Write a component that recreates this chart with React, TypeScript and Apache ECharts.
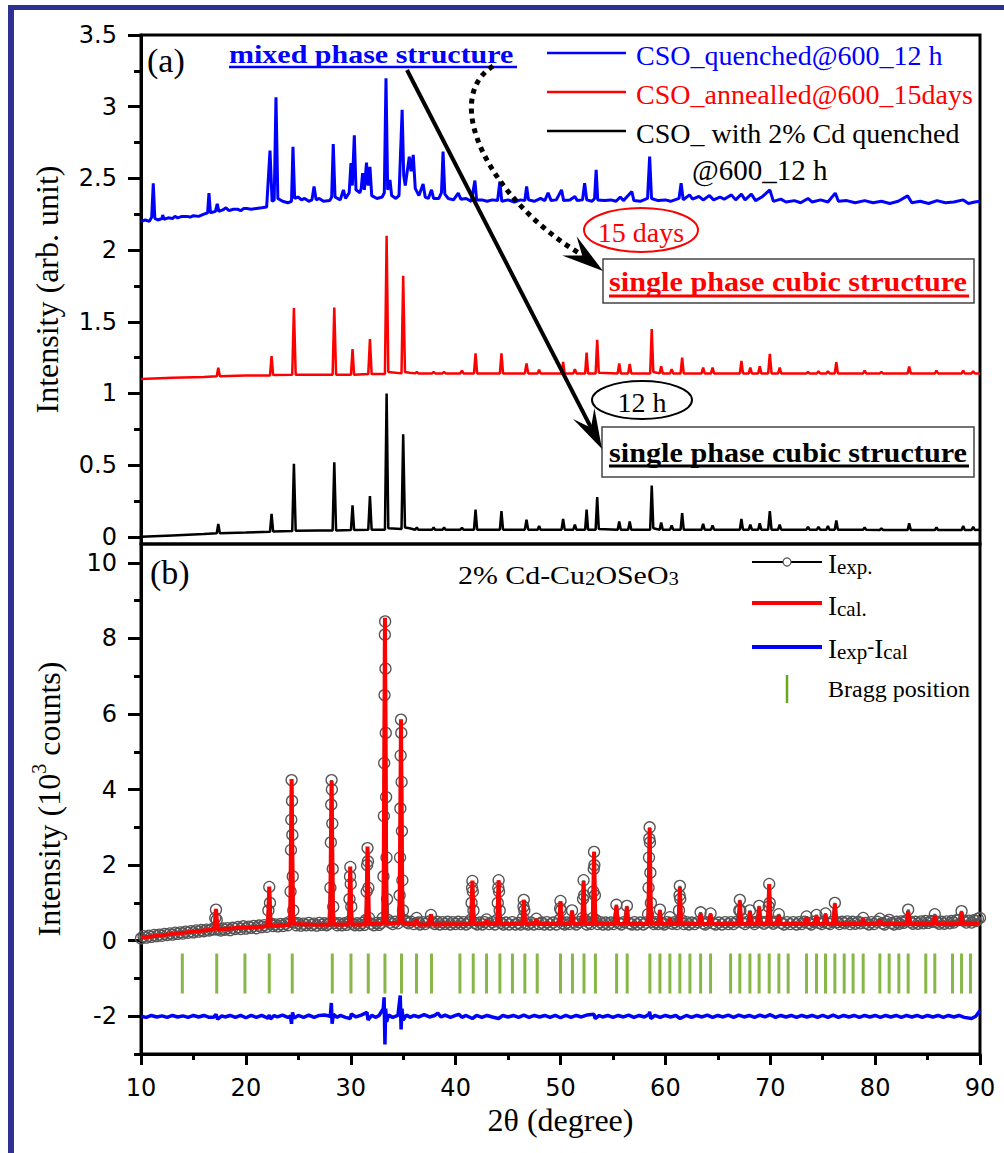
import React, { useEffect, useRef } from 'react';
import * as echarts from 'echarts';

const SERIF = '"Liberation Serif", "Times New Roman", serif';
const SANS = '"DejaVu Sans", sans-serif';

const xMin = 10;
const xMax = 90;
const xStep = 10;
const topYTicks = [0, 0.5, 1, 1.5, 2, 2.5, 3, 3.5];
const topYMinor = [0.25, 0.75, 1.25, 1.75, 2.25, 2.75, 3.25];
const botYTicks = [-2, 0, 2, 4, 6, 8, 10];
const botYMinor = [-3, -1, 1, 3, 5, 7, 9];

const topLegend = ['CSO_quenched@600_12 h', 'CSO_annealled@600_15days', 'CSO_ with 2% Cd quenched'];

// (a) CSO quenched @600 12 h (blue), flat [x, y, x, y, ...]
const quenchedXY = [
  10,2.20, 10.4,2.21, 10.8,2.20, 11.02,2.23, 11.17,2.466, 11.32,2.22, 11.6,2.21, 12.0,2.22, 12.07,2.245, 12.2,2.215, 12.6,2.225, 13.0,2.22, 13.24,2.235, 13.5,2.225,
  13.9,2.235, 14.35,2.235, 14.7,2.23, 15.0,2.24, 15.5,2.235, 16.0,2.25, 16.35,2.26, 16.48,2.397, 16.62,2.26, 17.1,2.27, 17.27,2.322, 17.42,2.27, 17.8,2.28, 18.1,2.295, 18.4,2.275,
  18.8,2.285, 19.2,2.285, 19.5,2.275, 19.8,2.29, 20.08,2.29, 20.5,2.285, 21,2.29, 21.5,2.295, 21.98,2.30, 22.3,2.694, 22.5,2.34, 22.7,2.35, 22.87,3.066, 23.05,2.36, 23.5,2.34, 24.0,2.33,
  24.35,2.34, 24.49,2.72, 24.65,2.36, 25.0,2.37, 25.3,2.35, 25.6,2.36, 26.0,2.34, 26.3,2.35, 26.5,2.443, 26.7,2.35, 27.0,2.36, 27.4,2.34,
  28.0,2.345, 28.18,2.37, 28.33,2.74, 28.5,2.37, 29.0,2.35, 29.3,2.42, 29.5,2.36, 29.85,2.40, 30.02,2.606, 30.15,2.45, 30.34,2.80, 30.5,2.42,
  30.87,2.40, 31.0,2.43, 31.13,2.536, 31.3,2.42, 31.5,2.61, 31.65,2.45, 31.83,2.58, 32.0,2.38, 32.5,2.36, 33.0,2.37, 33.2,2.40, 33.36,3.199,
  33.52,2.42, 33.74,2.49, 33.9,2.38, 34.3,2.36, 34.6,2.38, 34.9,2.978, 35.05,2.52, 35.2,2.45, 35.58,2.652, 35.75,2.55, 35.96,2.664, 36.15,2.43,
  36.5,2.38, 36.9,2.46, 37.1,2.37, 37.4,2.36, 37.7,2.42, 37.9,2.36, 38.4,2.36, 38.65,2.40, 38.8,2.687, 38.97,2.39, 39.3,2.36, 39.8,2.35,
  40.25,2.397, 40.5,2.355, 41.0,2.36, 41.5,2.34, 41.84,2.485, 42.0,2.35, 42.5,2.35, 43.0,2.34, 43.5,2.35, 44.0,2.345, 44.22,2.478, 44.4,2.34,
  45.0,2.35, 45.6,2.335, 46.2,2.35, 46.6,2.345, 46.77,2.443, 46.95,2.35, 47.5,2.34, 48.1,2.36, 48.5,2.345, 48.82,2.40, 49.1,2.345, 49.6,2.35,
  50.1,2.42, 50.3,2.345, 50.9,2.35, 51.37,2.373, 51.6,2.345, 52.1,2.35, 52.3,2.466, 52.5,2.35, 53.0,2.34, 53.25,2.36, 53.4,2.559, 53.55,2.35,
  54.2,2.345, 54.8,2.35, 55.3,2.34, 55.7,2.37, 56.0,2.345, 56.8,2.408, 57.0,2.345, 57.6,2.34, 58.3,2.36, 58.5,2.652, 58.68,2.36, 59.3,2.345,
  60.0,2.35, 60.5,2.34, 61.3,2.36, 61.5,2.466, 61.7,2.35, 62.3,2.385, 62.6,2.355, 63.2,2.375, 63.6,2.35, 64.2,2.38, 64.6,2.35, 65.2,2.37,
  65.6,2.355, 66.3,2.385, 66.7,2.35, 67.25,2.39, 67.6,2.35, 68.2,2.39, 68.6,2.345, 69.2,2.37, 69.96,2.42, 70.3,2.34, 71.0,2.355, 71.5,2.335,
  72.3,2.345, 72.9,2.33, 73.6,2.36, 74.0,2.335, 74.8,2.35, 75.5,2.335, 76.2,2.397, 76.5,2.34, 77.3,2.345, 78.1,2.33, 79.0,2.345, 79.8,2.33,
  80.6,2.34, 81.4,2.325, 82.2,2.34, 83.1,2.378, 83.5,2.33, 84.3,2.34, 85.1,2.325, 85.9,2.345, 86.7,2.33, 87.5,2.335, 88.4,2.35, 88.9,2.325,
  89.5,2.335, 90,2.34
];

// (a) CSO annealed @600 15 days (red)
const annealedXY = [
  10,1.10, 13,1.11, 16,1.115, 17.22,1.12, 17.37,1.18, 17.52,1.12, 20,1.125, 22.3,1.125, 22.45,1.26, 22.6,1.128, 24.42,1.13, 24.58,1.595,
  24.75,1.13, 27,1.13, 28.27,1.13, 28.43,1.60, 28.6,1.13, 30.02,1.13, 30.17,1.31, 30.32,1.13, 31.67,1.135, 31.83,1.38, 31.99,1.135,
  33.26,1.135, 33.42,2.10, 33.58,1.15, 34.84,1.14, 35.0,1.82, 35.17,1.15, 35.6,1.145, 36.15,1.14, 36.3,1.15, 36.45,1.14, 37.75,1.14,
  37.9,1.15, 38.05,1.14, 38.75,1.14, 38.9,1.15, 39.05,1.14, 40.45,1.14, 40.6,1.16, 40.75,1.14, 41.75,1.14, 41.9,1.28, 42.05,1.14,
  44.22,1.14, 44.37,1.28, 44.52,1.14, 46.6,1.14, 46.76,1.21, 46.92,1.14, 47.82,1.14, 47.96,1.165, 48.1,1.14, 50.1,1.14, 50.25,1.22,
  50.4,1.14, 51.22,1.14, 51.37,1.17, 51.52,1.14, 52.35,1.14, 52.49,1.285, 52.63,1.14, 53.35,1.14, 53.5,1.374, 53.65,1.145, 55.45,1.14,
  55.6,1.21, 55.75,1.14, 56.45,1.14, 56.6,1.205, 56.75,1.14, 58.55,1.14, 58.7,1.45, 58.85,1.15, 59.45,1.14, 59.6,1.19, 59.75,1.14,
  60.45,1.14, 60.6,1.17, 60.75,1.14, 61.45,1.14, 61.6,1.25, 61.75,1.14, 63.45,1.14, 63.6,1.18, 63.75,1.14, 64.35,1.14, 64.5,1.18,
  64.65,1.14, 67.1,1.14, 67.25,1.227, 67.4,1.14, 67.95,1.14, 68.1,1.18, 68.25,1.14, 68.85,1.14, 69.0,1.19, 69.15,1.14, 69.8,1.14,
  69.96,1.276, 70.12,1.14, 70.75,1.14, 70.9,1.18, 71.05,1.14, 73.45,1.14, 73.6,1.15, 73.75,1.14, 74.45,1.14, 74.6,1.155, 74.75,1.14,
  75.35,1.14, 75.5,1.155, 75.65,1.14, 76.15,1.14, 76.3,1.218, 76.45,1.14, 78.85,1.14, 79.0,1.16, 79.15,1.14, 80.45,1.14, 80.6,1.15,
  80.75,1.14, 83.1,1.14, 83.25,1.188, 83.4,1.14, 85.7,1.14, 85.85,1.16, 86.0,1.14, 88.25,1.14, 88.4,1.16, 88.55,1.14, 89.2,1.14,
  89.35,1.155, 89.5,1.14, 90,1.14
];

// (a) CSO with 2% Cd quenched @600 12 h (black)
const cdXY = [
  10,0.0, 13,0.01, 16,0.02, 17.22,0.025, 17.37,0.09, 17.52,0.025, 20,0.03, 22.3,0.035, 22.45,0.16, 22.6,0.038, 24.42,0.04, 24.58,0.51,
  24.75,0.042, 27,0.045, 28.27,0.045, 28.43,0.52, 28.6,0.045, 30.02,0.048, 30.17,0.22, 30.32,0.048, 31.67,0.05, 31.83,0.285, 31.99,0.05,
  33.26,0.05, 33.42,1.0, 33.58,0.06, 34.84,0.055, 35.0,0.715, 35.17,0.065, 35.6,0.06, 36.15,0.05, 36.3,0.065, 36.45,0.05, 37.75,0.05,
  37.9,0.065, 38.05,0.05, 38.75,0.05, 38.9,0.065, 39.05,0.05, 40.45,0.05, 40.6,0.062, 40.75,0.05, 41.75,0.05, 41.9,0.19, 42.05,0.05,
  44.22,0.05, 44.37,0.18, 44.52,0.05, 46.6,0.05, 46.76,0.12, 46.92,0.05, 47.82,0.05, 47.96,0.075, 48.1,0.05, 50.1,0.05, 50.25,0.125,
  50.4,0.05, 51.22,0.05, 51.37,0.085, 51.52,0.05, 52.35,0.05, 52.49,0.19, 52.63,0.05, 53.35,0.05, 53.5,0.277, 53.65,0.055, 55.45,0.05,
  55.6,0.107, 55.75,0.05, 56.45,0.05, 56.6,0.107, 56.75,0.05, 58.55,0.05, 58.7,0.358, 58.85,0.06, 59.45,0.05, 59.6,0.1, 59.75,0.05,
  60.45,0.05, 60.6,0.08, 60.75,0.05, 61.45,0.05, 61.6,0.165, 61.75,0.05, 63.45,0.05, 63.6,0.09, 63.75,0.05, 64.35,0.05, 64.5,0.08,
  64.65,0.05, 67.1,0.05, 67.25,0.125, 67.4,0.05, 67.95,0.05, 68.1,0.085, 68.25,0.05, 68.85,0.05, 69.0,0.095, 69.15,0.05, 69.8,0.05,
  69.96,0.18, 70.12,0.05, 70.75,0.05, 70.9,0.085, 71.05,0.05, 73.45,0.05, 73.6,0.07, 73.75,0.05, 74.45,0.05, 74.6,0.07, 74.75,0.05,
  75.35,0.05, 75.5,0.075, 75.65,0.05, 76.15,0.05, 76.3,0.114, 76.45,0.05, 78.85,0.05, 79.0,0.065, 79.15,0.05, 80.45,0.048, 80.6,0.06,
  80.75,0.048, 83.1,0.048, 83.25,0.095, 83.4,0.048, 85.7,0.048, 85.85,0.065, 86.0,0.048, 88.25,0.048, 88.4,0.075, 88.55,0.048,
  89.2,0.048, 89.35,0.07, 89.5,0.048, 90,0.05
];

// (b) experimental intensity (10^3 counts)
const iexpXY = [
  10.0,0.06, 10.25,0.12, 10.5,0.08, 10.75,0.13, 11.0,0.1, 11.25,0.15, 11.5,0.12, 11.75,0.16, 12.0,0.13, 12.25,0.18, 12.5,0.15, 12.75,0.19,
  13.0,0.16, 13.25,0.21, 13.5,0.18, 13.75,0.22, 14.0,0.19, 14.25,0.24, 14.5,0.21, 14.75,0.25, 15.0,0.22, 15.25,0.27, 15.5,0.24, 15.75,0.28,
  16.0,0.25, 16.25,0.29, 16.5,0.27, 16.75,0.3, 17.0,0.3, 17.08,0.6, 17.15,0.82, 17.22,0.55, 17.3,0.3, 17.6,0.27, 17.8,0.32, 18.0,0.29,
  18.25,0.33, 18.5,0.28, 18.75,0.34, 19.0,0.31, 19.25,0.36, 19.5,0.31, 19.75,0.38, 20.0,0.32, 20.25,0.37, 20.5,0.34, 20.75,0.39, 21.0,0.33,
  21.25,0.4, 21.5,0.36, 21.75,0.41, 22.0,0.37, 22.15,0.8, 22.23,1.42, 22.3,1.0, 22.4,0.45, 22.6,0.39, 22.8,0.43, 23.05,0.38, 23.3,0.44,
  23.55,0.39, 23.8,0.45, 24.0,0.41, 24.2,0.5, 24.26,1.3, 24.3,2.4, 24.33,3.2, 24.36,4.25, 24.4,3.7, 24.43,2.8, 24.47,1.7, 24.52,0.8,
  24.6,0.48, 24.8,0.41, 25.0,0.46, 25.25,0.4, 25.5,0.45, 25.75,0.41, 26.0,0.47, 26.25,0.41, 26.5,0.45, 26.75,0.4, 27.0,0.47, 27.25,0.42,
  27.5,0.46, 27.7,0.41, 27.9,0.45, 28.06,1.4, 28.1,2.6, 28.14,3.6, 28.17,4.25, 28.2,4.0, 28.24,3.1, 28.28,1.9, 28.33,0.9, 28.45,0.47,
  28.7,0.41, 28.9,0.46, 29.15,0.41, 29.4,0.46, 29.6,0.42, 29.82,0.5, 29.88,1.1, 29.93,1.7, 29.96,1.95, 30.0,1.5, 30.05,0.9, 30.15,0.45,
  30.4,0.41, 30.6,0.46, 30.85,0.41, 31.1,0.47, 31.3,0.42, 31.45,0.55, 31.52,1.3, 31.56,2.0, 31.6,2.45, 31.64,2.1, 31.68,1.4, 31.75,0.6,
  31.95,0.45, 32.2,0.41, 32.45,0.47, 32.7,0.42, 32.9,0.47, 33.05,0.6, 33.12,1.7, 33.16,3.3, 33.19,4.7, 33.22,6.5, 33.25,8.1, 33.28,8.45,
  33.31,7.2, 33.34,5.5, 33.37,3.8, 33.41,2.2, 33.46,1.1, 33.55,0.55, 33.75,0.48, 34.0,0.44, 34.25,0.5, 34.5,0.46, 34.66,1.2, 34.7,2.2,
  34.73,3.5, 34.76,4.9, 34.79,5.85, 34.82,5.5, 34.85,4.2, 34.88,2.9, 34.92,1.6, 34.98,0.8, 35.1,0.55, 35.3,0.5, 35.5,0.46, 35.75,0.5,
  36.0,0.44, 36.28,0.6, 36.45,0.48, 36.6,0.43, 36.85,0.49, 37.1,0.44, 37.4,0.5, 37.65,0.68, 37.8,0.48, 38.0,0.44, 38.25,0.5, 38.5,0.43,
  38.75,0.49, 39.0,0.44, 39.25,0.5, 39.5,0.43, 39.75,0.49, 40.0,0.44, 40.25,0.5, 40.5,0.44, 40.75,0.49, 41.0,0.43, 41.25,0.48, 41.45,0.55,
  41.52,1.0, 41.57,1.4, 41.6,1.58, 41.64,1.3, 41.7,0.8, 41.8,0.47, 42.05,0.43, 42.3,0.48, 42.55,0.43, 42.75,0.49, 42.95,0.56, 43.2,0.44,
  43.5,0.49, 43.75,0.43, 43.95,0.55, 44.02,1.0, 44.07,1.4, 44.1,1.6, 44.14,1.3, 44.2,0.8, 44.3,0.47, 44.55,0.43, 44.8,0.48, 45.1,0.43,
  45.4,0.49, 45.7,0.43, 46.0,0.47, 46.2,0.43, 46.42,0.6, 46.47,0.9, 46.5,1.08, 46.55,0.8, 46.65,0.46, 46.9,0.43, 47.2,0.48, 47.45,0.43,
  47.7,0.58, 47.95,0.44, 48.2,0.48, 48.45,0.43, 48.7,0.49, 49.0,0.43, 49.3,0.48, 49.6,0.43, 49.9,0.55, 49.96,0.85, 50.0,1.05, 50.05,0.8,
  50.15,0.46, 50.4,0.43, 50.6,0.48, 50.85,0.44, 51.1,0.8, 51.3,0.48, 51.5,0.43, 51.8,0.49, 52.1,0.6, 52.15,1.1, 52.2,1.6, 52.25,1.2,
  52.32,0.55, 52.5,0.43, 52.7,0.48, 52.9,0.44, 53.08,0.6, 53.13,1.3, 53.17,1.9, 53.2,2.35, 53.23,2.0, 53.28,1.2, 53.35,0.55, 53.55,0.44,
  53.8,0.49, 54.05,0.43, 54.3,0.48, 54.55,0.43, 54.8,0.48, 55.05,0.44, 55.33,0.95, 55.55,0.47, 55.8,0.43, 56.05,0.49, 56.33,0.92,
  56.55,0.46, 56.8,0.43, 57.05,0.49, 57.3,0.43, 57.6,0.48, 57.9,0.43, 58.15,0.48, 58.35,0.7, 58.4,1.4, 58.44,2.2, 58.47,2.7, 58.5,3.0,
  58.53,2.6, 58.57,1.8, 58.62,1.0, 58.7,0.5, 58.9,0.44, 59.1,0.49, 59.3,0.44, 59.48,0.82, 59.7,0.47, 59.9,0.43, 60.15,0.49, 60.43,0.62,
  60.65,0.45, 60.9,0.49, 61.1,0.44, 61.3,0.8, 61.35,1.2, 61.38,1.45, 61.42,1.1, 61.5,0.55, 61.75,0.44, 62.0,0.49, 62.25,0.43, 62.5,0.48,
  62.8,0.44, 63.1,0.49, 63.36,0.75, 63.6,0.46, 63.8,0.43, 64.05,0.48, 64.31,0.72, 64.55,0.46, 64.8,0.43, 65.1,0.48, 65.4,0.43, 65.7,0.49,
  66.0,0.44, 66.25,0.49, 66.5,0.44, 66.8,0.5, 67.05,0.8, 67.1,1.08, 67.15,0.8, 67.35,0.48, 67.6,0.44, 67.85,0.5, 68.06,0.8, 68.3,0.49,
  68.5,0.44, 68.7,0.5, 68.94,0.92, 69.15,0.5, 69.4,0.45, 69.65,0.5, 69.85,0.9, 69.9,1.5, 69.95,1.0, 70.1,0.5, 70.3,0.45, 70.55,0.5,
  70.82,0.7, 71.05,0.47, 71.3,0.43, 71.6,0.49, 71.9,0.44, 72.2,0.49, 72.5,0.43, 72.75,0.49, 73.0,0.44, 73.25,0.5, 73.46,0.64, 73.7,0.47,
  73.9,0.43, 74.15,0.5, 74.41,0.68, 74.65,0.47, 74.9,0.44, 75.05,0.5, 75.27,0.72, 75.5,0.47, 75.7,0.44, 75.95,0.5, 76.16,1.0, 76.4,0.49,
  76.6,0.44, 76.85,0.5, 77.1,0.46, 77.35,0.51, 77.6,0.44, 77.85,0.5, 78.1,0.45, 78.4,0.5, 78.6,0.46, 78.86,0.6, 79.1,0.47, 79.4,0.43,
  79.65,0.49, 79.9,0.44, 80.2,0.5, 80.45,0.58, 80.7,0.46, 80.9,0.43, 81.1,0.5, 81.34,0.55, 81.6,0.47, 81.8,0.43, 82.05,0.5, 82.3,0.45,
  82.5,0.51, 82.7,0.47, 82.95,0.53, 83.15,0.82, 83.4,0.5, 83.6,0.45, 83.85,0.5, 84.1,0.45, 84.4,0.51, 84.6,0.46, 84.8,0.52, 85.05,0.47,
  85.3,0.52, 85.5,0.5, 85.69,0.7, 85.9,0.5, 86.1,0.45, 86.35,0.5, 86.6,0.45, 86.85,0.51, 87.1,0.46, 87.3,0.52, 87.5,0.48, 87.75,0.54,
  88.0,0.55, 88.24,0.78, 88.45,0.53, 88.7,0.48, 88.95,0.53, 89.2,0.48, 89.4,0.54, 89.6,0.52, 89.8,0.58, 90.0,0.6
];

// (b) calculated intensity
const icalXY = [
  10,0.08, 13,0.18, 16,0.27, 17.0,0.3, 17.15,0.84, 17.3,0.3, 19.6,0.34, 19.75,0.38, 19.9,0.34, 22.1,0.38, 22.23,1.43, 22.36,0.39,
  24.22,0.42, 24.36,4.28, 24.5,0.44, 26.0,0.43, 28.03,0.42, 28.17,4.23, 28.31,0.43, 29.82,0.43, 29.95,1.96, 30.08,0.43, 31.47,0.43,
  31.6,2.49, 31.73,0.44, 33.12,0.45, 33.26,8.55, 33.4,0.47, 34.65,0.46, 34.79,5.86, 34.93,0.48, 35.3,0.45, 36.15,0.43, 36.28,0.57,
  36.4,0.43, 37.5,0.43, 37.65,0.70, 37.8,0.43, 41.47,0.44, 41.6,1.59, 41.73,0.44, 42.8,0.44, 42.95,0.55, 43.1,0.44, 43.97,0.44, 44.1,1.60,
  44.23,0.44, 46.37,0.44, 46.5,1.08, 46.63,0.44, 47.55,0.44, 47.7,0.57, 47.85,0.44, 49.87,0.44, 50.0,1.04, 50.13,0.44, 50.97,0.44,
  51.1,0.79, 51.23,0.44, 52.07,0.44, 52.2,1.58, 52.33,0.44, 53.07,0.44, 53.2,2.35, 53.33,0.45, 55.2,0.44, 55.33,0.93, 55.46,0.44,
  56.2,0.44, 56.33,0.9, 56.46,0.44, 58.37,0.44, 58.5,2.98, 58.63,0.46, 59.35,0.44, 59.48,0.8, 59.61,0.44, 60.3,0.44, 60.43,0.6, 60.56,0.44,
  61.25,0.44, 61.38,1.42, 61.51,0.44, 63.23,0.44, 63.36,0.72, 63.49,0.44, 64.18,0.44, 64.31,0.7, 64.44,0.44, 66.97,0.44, 67.1,1.06,
  67.23,0.44, 67.93,0.44, 68.06,0.78, 68.19,0.44, 68.81,0.44, 68.94,0.9, 69.07,0.44, 69.77,0.44, 69.9,1.5, 70.03,0.44, 70.69,0.44,
  70.82,0.68, 70.95,0.44, 73.33,0.44, 73.46,0.62, 73.59,0.44, 74.28,0.44, 74.41,0.66, 74.54,0.44, 75.14,0.44, 75.27,0.7, 75.4,0.44,
  76.03,0.44, 76.16,0.98, 76.29,0.44, 78.73,0.44, 78.86,0.58, 78.99,0.44, 80.32,0.44, 80.45,0.56, 80.58,0.44, 83.02,0.44, 83.15,0.78,
  83.28,0.44, 85.56,0.44, 85.69,0.66, 85.82,0.44, 88.11,0.44, 88.24,0.76, 88.37,0.44, 90,0.45
];

// (b) difference curve, plotted around -2
const diffXY = [
  10,-2.0, 10.5,-2.03, 11,-1.98, 11.5,-2.02, 12,-1.99, 12.5,-2.03, 13,-1.98, 13.5,-2.02, 14,-1.99, 14.5,-2.03, 15,-1.98, 15.5,-2.02,
  16,-1.98, 16.5,-2.03, 16.9,-2.03, 17.15,-1.95, 17.3,-2.08, 17.7,-1.99, 18,-2.02, 18.5,-1.98, 19,-2.03, 19.5,-1.98, 20,-2.04, 20.5,-1.98,
  21,-2.03, 21.5,-1.98, 22.1,-2.05, 22.23,-1.97, 22.35,-2.07, 22.7,-1.98, 23,-2.02, 23.5,-1.97, 24.0,-2.03, 24.25,-2.0, 24.35,-2.2,
  24.45,-1.9, 24.6,-2.05, 25,-1.98, 25.5,-2.03, 26,-1.97, 26.5,-2.03, 27,-1.98, 27.5,-1.97, 28.05,-2.0, 28.15,-1.65, 28.22,-2.2,
  28.35,-1.95, 28.7,-2.03, 29,-1.98, 29.5,-2.03, 29.95,-2.06, 30.05,-1.94, 30.5,-2.02, 31.0,-1.97, 31.55,-1.9, 31.65,-2.1, 32.0,-1.98,
  32.4,-2.03, 32.7,-1.98, 33.1,-1.8, 33.18,-1.5, 33.26,-2.75, 33.33,-1.8, 33.42,-2.15, 33.6,-1.97, 34.0,-2.03, 34.5,-1.98, 34.72,-1.45,
  34.8,-2.35, 34.88,-1.8, 35.0,-2.1, 35.3,-1.97, 35.7,-2.03, 36,-1.98, 36.5,-2.02, 37,-1.96, 37.5,-2.02, 38.0,-1.98, 38.3,-1.92,
  38.6,-2.02, 39.0,-1.97, 39.5,-2.03, 40.0,-1.98, 40.3,-1.95, 40.6,-2.03, 41.0,-1.98, 41.6,-2.06, 42,-1.98, 42.5,-2.03, 43,-1.98,
  43.5,-2.02, 44.1,-2.06, 44.5,-1.98, 45,-2.02, 45.5,-1.98, 46,-2.03, 46.5,-1.97, 47,-2.03, 47.5,-1.98, 48,-2.02, 48.5,-1.98, 49,-2.03,
  49.5,-1.98, 50,-2.04, 50.5,-1.98, 51,-2.03, 51.5,-1.98, 52,-2.02, 52.5,-1.97, 53.2,-1.95, 53.3,-2.06, 53.7,-1.98, 54,-2.02, 54.5,-1.98,
  55,-2.03, 55.5,-1.98, 56,-2.02, 56.5,-1.97, 57,-2.03, 57.5,-1.98, 58,-2.02, 58.45,-1.95, 58.5,-1.88, 58.6,-2.06, 59,-1.98, 59.5,-2.03,
  60,-1.98, 60.5,-2.02, 61.0,-1.98, 61.4,-2.06, 62,-1.98, 62.5,-2.03, 63,-1.98, 63.5,-2.02, 64,-1.97, 64.5,-2.03, 65,-1.98, 65.5,-2.02,
  66,-1.97, 66.5,-2.03, 67,-1.97, 67.5,-2.02, 68,-1.98, 68.5,-2.03, 69,-1.97, 69.5,-2.02, 70,-1.96, 70.5,-2.03, 71,-1.98, 71.5,-2.02,
  72,-1.98, 72.5,-2.03, 73,-1.98, 73.5,-2.02, 74,-1.98, 74.5,-2.03, 75,-1.98, 75.5,-2.03, 76,-1.97, 76.5,-2.03, 77,-1.98, 77.5,-2.02,
  78,-1.98, 78.5,-2.03, 79,-1.98, 79.5,-2.02, 80,-1.98, 80.5,-2.03, 81,-1.98, 81.5,-2.02, 82,-1.98, 82.5,-2.03, 83,-1.98, 83.5,-2.02,
  84,-1.98, 84.5,-2.03, 85,-1.98, 85.5,-2.02, 86,-1.98, 86.5,-2.03, 87,-1.98, 87.5,-2.02, 88,-1.98, 88.5,-2.03, 89.2,-2.06, 89.6,-2.0,
  90,-1.85
];

// Bragg positions (2θ)
const braggPos = [
  13.94, 17.22, 19.91, 22.23, 24.42, 28.24, 30.02, 31.67, 33.26, 34.84, 36.27, 37.7, 40.41, 41.68, 42.95, 44.22, 45.42, 46.6, 47.78,
  50.0, 51.14, 52.24, 53.33, 55.35, 56.36, 58.52, 59.48, 60.43, 61.38, 62.34, 63.36, 64.31, 66.22, 67.1, 68.06, 68.94, 69.9, 70.82,
  71.71, 73.46, 74.41, 75.27, 76.16, 77.05, 77.9, 78.86, 80.45, 81.34, 82.26, 83.15, 84.83, 85.69, 87.38, 88.24, 89.09
];
const braggLevel = -0.87;

function pairs(a: number[]): number[][] {
  const out: number[][] = [];
  for (let i = 0; i < a.length; i += 2) out.push([a[i], a[i + 1]]);
  return out;
}

function arrowHead(tx: number, ty: number, dx: number, dy: number, L: number, W: number, N: number) {
  const m = Math.sqrt(dx * dx + dy * dy);
  const ux = dx / m, uy = dy / m;
  const nx = -uy, ny = ux;
  return [
    [tx, ty],
    [tx - L * ux + W * nx, ty - L * uy + W * ny],
    [tx - N * ux, ty - N * uy],
    [tx - L * ux - W * nx, ty - L * uy - W * ny],
  ];
}

export default function App() {
  const ref = useRef<HTMLDivElement>(null);
  useEffect(() => {
    if (!ref.current) return;
    const chart = echarts.init(ref.current, null, { renderer: 'svg' });

    const gLeft = 141, gWidth = 839;
    const axisTextStyle = { color: '#000', fontFamily: SANS, fontSize: 24 };

    const solidHead = arrowHead(602, 449, 195, 379, 40, 12, 24);
    const solidEnd = [602 - 24 * 195 / 426.2, 449 - 24 * 379 / 426.2];
    const dotHead = arrowHead(603, 271, 0.8, 0.6, 42, 12, 26);

    const Z = 100;
    const richSub = (fs: number, sfs: number) => ({
      a: { fontFamily: SERIF, fontSize: fs, lineHeight: fs, verticalAlign: 'top', fill: '#000' },
      s: { fontFamily: SERIF, fontSize: sfs, lineHeight: sfs, verticalAlign: 'bottom', fill: '#000' },
      m: { fontFamily: SERIF, fontSize: sfs, lineHeight: fs, verticalAlign: 'top', fill: '#000' },
    });
    const graphic: any[] = [
      // page frame
      { type: 'rect', z: Z, shape: { x: 8, y: 5, width: 996, height: 5 }, style: { fill: '#2E3192' } },
      { type: 'rect', z: Z, shape: { x: 8, y: 5, width: 6, height: 1148 }, style: { fill: '#2E3192' } },
      // panel labels
      { type: 'text', z: Z, x: 147, y: 60, style: { text: '(a)', fontFamily: SERIF, fontSize: 34, fill: '#000', verticalAlign: 'middle' } },
      { type: 'text', z: Z, x: 150, y: 572, style: { text: '(b)', fontFamily: SERIF, fontSize: 34, fill: '#000', verticalAlign: 'middle' } },
      // mixed phase structure
      { type: 'text', z: Z, x: 229, y: 54, scaleX: 1.2, style: { text: 'mixed phase structure', fontFamily: SERIF, fontWeight: 'bold', fontSize: 25, fill: '#0000ff', verticalAlign: 'middle' } },
      { type: 'line', z: Z, shape: { x1: 229, y1: 67, x2: 517, y2: 67 }, style: { stroke: '#0000ff', lineWidth: 2.5 } },
      // top legend
      { type: 'line', z: Z, shape: { x1: 547, y1: 53, x2: 626, y2: 53 }, style: { stroke: '#0000ff', lineWidth: 2.5 } },
      { type: 'line', z: Z, shape: { x1: 547, y1: 92, x2: 626, y2: 92 }, style: { stroke: '#ff0000', lineWidth: 2.5 } },
      { type: 'line', z: Z, shape: { x1: 547, y1: 131, x2: 626, y2: 131 }, style: { stroke: '#000', lineWidth: 2.5 } },
      { type: 'text', z: Z, x: 636, y: 55, style: { text: topLegend[0], fontFamily: SERIF, fontSize: 28, fill: '#0000ff', verticalAlign: 'middle' } },
      { type: 'text', z: Z, x: 636, y: 94, style: { text: topLegend[1], fontFamily: SERIF, fontSize: 28, fill: '#ff0000', verticalAlign: 'middle' } },
      { type: 'text', z: Z, x: 636, y: 133, style: { text: topLegend[2], fontFamily: SERIF, fontSize: 28, fill: '#000', verticalAlign: 'middle' } },
      { type: 'text', z: Z, x: 692, y: 170, style: { text: '@600_12 h', fontFamily: SERIF, fontSize: 29, fill: '#000', verticalAlign: 'middle' } },
      // ellipses
      { type: 'ellipse', z: Z, shape: { cx: 641, cy: 230, rx: 57, ry: 22 }, style: { fill: 'none', stroke: '#ff0000', lineWidth: 2 } },
      { type: 'text', z: Z, x: 641, y: 232, style: { text: '15 days', fontFamily: SERIF, fontSize: 28, fill: '#ff0000', align: 'center', verticalAlign: 'middle' } },
      { type: 'ellipse', z: Z, shape: { cx: 642, cy: 400, rx: 50, ry: 19 }, style: { fill: 'none', stroke: '#000', lineWidth: 2 } },
      { type: 'text', z: Z, x: 642, y: 402, style: { text: '12 h', fontFamily: SERIF, fontSize: 28, fill: '#000', align: 'center', verticalAlign: 'middle' } },
      // boxes
      { type: 'rect', z: Z, shape: { x: 603, y: 259, width: 371, height: 44 }, style: { fill: 'none', stroke: '#444', lineWidth: 1.5 } },
      { type: 'text', z: Z, x: 609, y: 282, scaleX: 1.12, style: { text: 'single phase cubic structure', fontFamily: SERIF, fontWeight: 'bold', fontSize: 27, fill: '#ff0000', verticalAlign: 'middle' } },
      { type: 'line', z: Z, shape: { x1: 609, y1: 296, x2: 969, y2: 296 }, style: { stroke: '#ff0000', lineWidth: 3 } },
      { type: 'rect', z: Z, shape: { x: 602, y: 427, width: 372, height: 50 }, style: { fill: 'none', stroke: '#444', lineWidth: 1.5 } },
      { type: 'text', z: Z, x: 609, y: 453, scaleX: 1.12, style: { text: 'single phase cubic structure', fontFamily: SERIF, fontWeight: 'bold', fontSize: 27, fill: '#000', verticalAlign: 'middle' } },
      { type: 'line', z: Z, shape: { x1: 609, y1: 466, x2: 969, y2: 466 }, style: { stroke: '#000', lineWidth: 3 } },
      // arrows
      { type: 'line', z: Z, shape: { x1: 407, y1: 70, x2: solidEnd[0], y2: solidEnd[1] }, style: { stroke: '#000', lineWidth: 4 } },
      { type: 'polygon', z: Z, shape: { points: solidHead }, style: { fill: '#000' } },
      { type: 'bezierCurve', z: Z, shape: { x1: 493, y1: 66, cpx1: 440, cpy1: 100, cpx2: 490, cpy2: 200, x2: 582, y2: 255 }, style: { stroke: '#000', lineWidth: 5, fill: 'none', lineDash: [5, 5] } },
      { type: 'polygon', z: Z, shape: { points: dotHead }, style: { fill: '#000' } },
      // bottom panel compound label
      { type: 'text', z: Z, x: 458, y: 562, scaleX: 1.15, style: { text: '{a|2% Cd-Cu}{s|2}{a|OSeO}{s|3}', verticalAlign: 'top', rich: richSub(26, 18) } },
      // bottom legend
      { type: 'line', z: Z, shape: { x1: 752, y1: 562, x2: 822, y2: 562 }, style: { stroke: '#000', lineWidth: 2 } },
      { type: 'circle', z: Z + 1, shape: { cx: 787, cy: 562, r: 4 }, style: { fill: '#fff', stroke: '#555', lineWidth: 1.2 } },
      { type: 'line', z: Z, shape: { x1: 752, y1: 603, x2: 822, y2: 603 }, style: { stroke: '#ff0000', lineWidth: 4 } },
      { type: 'line', z: Z, shape: { x1: 752, y1: 647, x2: 822, y2: 647 }, style: { stroke: '#0000ff', lineWidth: 4 } },
      { type: 'line', z: Z, shape: { x1: 787, y1: 675, x2: 787, y2: 703 }, style: { stroke: '#6aa51c', lineWidth: 2.5 } },
      { type: 'text', z: Z, x: 828, y: 550, style: { text: '{a|I}{s|exp.}', verticalAlign: 'top', rich: richSub(27, 21) } },
      { type: 'text', z: Z, x: 828, y: 592, style: { text: '{a|I}{s|cal.}', verticalAlign: 'top', rich: richSub(27, 21) } },
      { type: 'text', z: Z, x: 828, y: 635, style: { text: '{a|I}{s|exp}{m|-}{a|I}{s|cal}', verticalAlign: 'top', rich: richSub(27, 21) } },
      { type: 'text', z: Z, x: 828, y: 689, style: { text: 'Bragg position', fontFamily: SERIF, fontSize: 24, fill: '#000', verticalAlign: 'middle' } },
    ];

    const option: any = {
      animation: false,
      backgroundColor: '#fff',
      grid: [
        { left: gLeft, width: gWidth, top: 35, height: 509, show: true, borderColor: '#000', borderWidth: 3, backgroundColor: 'transparent' },
        { left: gLeft, width: gWidth, top: 544, height: 510, show: true, borderColor: '#000', borderWidth: 3, backgroundColor: 'transparent' },
      ],
      xAxis: [
        { type: 'value', gridIndex: 0, min: xMin, max: xMax, interval: xStep, axisLine: { show: false }, axisTick: { show: false }, axisLabel: { show: false }, splitLine: { show: false } },
        {
          type: 'value', gridIndex: 1, min: xMin, max: xMax, interval: xStep,
          axisLine: { onZero: false, lineStyle: { color: '#000', width: 3 } },
          axisTick: { length: 11, lineStyle: { color: '#000', width: 3 } },
          minorTick: { show: true, splitNumber: 2, length: 6, lineStyle: { color: '#000', width: 3 } },
          axisLabel: { ...axisTextStyle, margin: 22 },
          splitLine: { show: false }, minorSplitLine: { show: false },
          name: '2θ (degree)', nameLocation: 'middle', nameGap: 50,
          nameTextStyle: { color: '#000', fontFamily: SERIF, fontSize: 32 },
        },
      ],
      yAxis: [
        {
          type: 'value', gridIndex: 0, position: 'left', min: -0.05, max: 3.5,
          axisLine: { onZero: false, lineStyle: { color: '#000', width: 3 } },
          axisTick: { customValues: topYTicks, length: 13, lineStyle: { color: '#000', width: 3 } },
          axisLabel: { ...axisTextStyle, customValues: topYTicks, margin: 24 },
          splitLine: { show: false },
          name: 'Intensity (arb. unit)', nameLocation: 'middle', nameGap: 78, nameRotate: 90,
          nameTextStyle: { color: '#000', fontFamily: SERIF, fontSize: 32 },
        },
        {
          type: 'value', gridIndex: 0, position: 'left', offset: 0, min: -0.05, max: 3.5,
          axisLine: { show: false, onZero: false },
          axisTick: { customValues: topYMinor, length: 7, lineStyle: { color: '#000', width: 3 } },
          axisLabel: { show: false }, splitLine: { show: false },
        },
        {
          type: 'value', gridIndex: 1, position: 'left', min: -3, max: 10.5,
          axisLine: { onZero: false, lineStyle: { color: '#000', width: 3 } },
          axisTick: { customValues: botYTicks, length: 13, lineStyle: { color: '#000', width: 3 } },
          axisLabel: { ...axisTextStyle, customValues: botYTicks, margin: 24 },
          splitLine: { show: false },
          name: '{a|Intensity (10}{b|3}{a| counts)}', nameLocation: 'middle', nameGap: 76, nameRotate: 90,
          nameTextStyle: {
            color: '#000',
            rich: {
              a: { fontFamily: SERIF, fontSize: 32, lineHeight: 36, verticalAlign: 'bottom', color: '#000' },
              b: { fontFamily: SERIF, fontSize: 20, lineHeight: 20, verticalAlign: 'top', color: '#000' },
            },
          },
        },
        {
          type: 'value', gridIndex: 1, position: 'left', offset: 0, min: -3, max: 10.5,
          axisLine: { show: false, onZero: false },
          axisTick: { customValues: botYMinor, length: 7, lineStyle: { color: '#000', width: 3 } },
          axisLabel: { show: false }, splitLine: { show: false },
        },
      ],
      series: [
        { name: topLegend[0], type: 'line', xAxisIndex: 0, yAxisIndex: 0, data: pairs(quenchedXY), showSymbol: false, lineStyle: { color: '#0000ff', width: 3 }, itemStyle: { color: '#0000ff' }, z: 3 },
        { name: topLegend[1], type: 'line', xAxisIndex: 0, yAxisIndex: 0, data: pairs(annealedXY), showSymbol: false, lineStyle: { color: '#ff0000', width: 2.5 }, itemStyle: { color: '#ff0000' }, z: 3 },
        { name: topLegend[2], type: 'line', xAxisIndex: 0, yAxisIndex: 0, data: pairs(cdXY), showSymbol: false, lineStyle: { color: '#000', width: 2.5 }, itemStyle: { color: '#000' }, z: 3 },
        { name: 'Bragg position', type: 'scatter', xAxisIndex: 1, yAxisIndex: 2, data: braggPos.map((x) => [x, braggLevel]), symbol: 'rect', symbolSize: [3, 40], itemStyle: { color: '#6aa51c' }, z: 2 },
        { name: 'Iexp.', type: 'line', xAxisIndex: 1, yAxisIndex: 2, data: pairs(iexpXY), symbol: 'circle', symbolSize: 11, showSymbol: true, showAllSymbol: true, lineStyle: { color: '#5a5a5a', width: 3 }, itemStyle: { color: 'rgba(255,255,255,0)', borderColor: '#555', borderWidth: 1.3 }, z: 3 },
        { name: 'Ical.', type: 'line', xAxisIndex: 1, yAxisIndex: 2, data: pairs(icalXY), showSymbol: false, lineStyle: { color: '#ff0000', width: 4 }, itemStyle: { color: '#ff0000' }, z: 4 },
        { name: 'Iexp-Ical', type: 'line', xAxisIndex: 1, yAxisIndex: 2, data: pairs(diffXY), showSymbol: false, lineStyle: { color: '#0000ff', width: 3.5 }, itemStyle: { color: '#0000ff' }, z: 4 },
      ],
      graphic,
    };
    chart.setOption(option);
    return () => chart.dispose();
  }, []);
  return <div ref={ref} style={{ position: 'absolute', left: 0, top: 0, width: 1004, height: 1153, background: '#fff' }} />;
}
